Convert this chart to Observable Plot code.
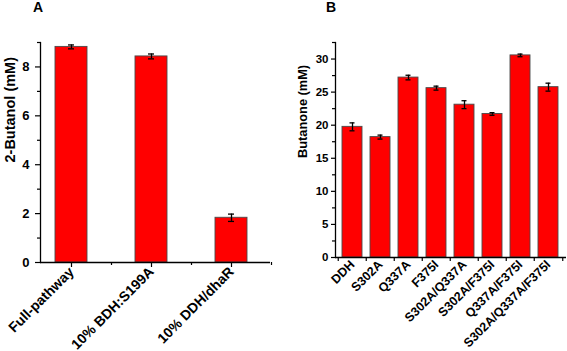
<!DOCTYPE html>
<html>
<head>
<meta charset="utf-8">
<script src="https://cdn.jsdelivr.net/npm/d3@7"></script>
<script src="https://cdn.jsdelivr.net/npm/@observablehq/plot@0.6"></script>
<style>
  html, body { margin: 0; padding: 0; background: #fff; }
  #wrap { position: relative; width: 567px; height: 351px; overflow: hidden; font-family: "Liberation Sans", Arial, sans-serif; }
  .panel { position: absolute; top: 0; }
  .letter { position: absolute; font-weight: bold; font-size: 14px; top: -1px; }
</style>
</head>
<body>
<div id="wrap">
  <div id="pa" class="panel" style="left:0px"></div>
  <div id="pb" class="panel" style="left:290px"></div>
  <div class="letter" style="left:33px">A</div>
  <div class="letter" style="left:326px">B</div>
</div>
<script>
const catsA = ["Full-pathway", "10% BDH:S199A", "10% DDH/dhaR"];
const valsA = [8.82, 8.43, 1.83];
const errsA = [0.08, 0.10, 0.15];
const yTitleA = "2-Butanol (mM)";
const yTicksA = [0, 2, 4, 6, 8];
const yMinorA = [1, 3, 5, 7, 9];

const catsB = ["DDH", "S302A", "Q337A", "F375I", "S302A/Q337A", "S302A/F375I", "Q337A/F375I", "S302A/Q337A/F375I"];
const valsB = [19.75, 18.2, 27.2, 25.6, 23.1, 21.7, 30.55, 25.75];
const errsB = [0.6, 0.3, 0.35, 0.3, 0.6, 0.2, 0.2, 0.6];
const yTitleB = "Butanone (mM)";
const yTicksB = [0, 5, 10, 15, 20, 25, 30];
const yMinorB = [2.5, 7.5, 12.5, 17.5, 22.5, 27.5, 32.5];

const dataA = catsA.map((c, i) => ({name: c, value: valsA[i], err: errsA[i]}));
const dataB = catsB.map((c, i) => ({name: c, value: valsB[i], err: errsB[i]}));

const font = "'Liberation Sans', Arial, sans-serif";

const chartA = Plot.plot({
  width: 290, height: 351,
  marginLeft: 40, marginRight: 20, marginTop: 42, marginBottom: 89,
  style: {fontFamily: font, fontWeight: "bold", background: "white", color: "black", overflow: "visible"},
  x: {type: "band", domain: catsA, paddingInner: 0.6, paddingOuter: 0.2375, align: 0.4, label: null},
  y: {domain: [0, 9], label: null},
  marks: [
    Plot.barY(dataA, {x: "name", y: "value", fill: "#ff0000", stroke: "#4a4a4a", strokeWidth: 0.9}),
    Plot.ruleX(dataA, {x: "name", y1: d => d.value - d.err, y2: d => d.value + d.err, stroke: "black", strokeWidth: 1.3}),
    Plot.tickY(dataA, {x: "name", y: d => d.value + d.err, stroke: "black", strokeWidth: 1.3, insetLeft: 13, insetRight: 13}),
    Plot.tickY(dataA, {x: "name", y: d => d.value - d.err, stroke: "black", strokeWidth: 1.3, insetLeft: 13, insetRight: 13}),
    Plot.frame({anchor: "left", stroke: "black", strokeWidth: 1.3}),
    Plot.ruleY([0], {stroke: "black", strokeWidth: 1.3}),
    Plot.axisY({ticks: yTicksA, tickSize: 5, tickPadding: 6, fontSize: 13, strokeWidth: 1.2, label: null}),
    Plot.axisY({ticks: yMinorA, tickSize: 3, text: null, strokeWidth: 1.2, label: null}),
    Plot.axisX({tickSize: 5, tickRotate: -45, fontSize: 14, tickPadding: 2, strokeWidth: 1.2, label: null}),
    Plot.axisX({tickSize: 3, text: null, dx: 40, strokeWidth: 1.2, label: null}),
    Plot.text([yTitleA], {text: d => d, frameAnchor: "left", rotate: -90, dx: -30, dy: 10, fontSize: 14.5, fontWeight: "bold"})
  ]
});
document.getElementById("pa").appendChild(chartA);

const chartB = Plot.plot({
  width: 277, height: 351,
  marginLeft: 45, marginRight: 1, marginTop: 42, marginBottom: 94,
  style: {fontFamily: font, fontWeight: "bold", background: "white", color: "black", overflow: "visible"},
  x: {type: "band", domain: catsB, paddingInner: 0.3, paddingOuter: 0.22, align: 0.45, label: null},
  y: {domain: [0, 32.5], label: null},
  marks: [
    Plot.barY(dataB, {x: "name", y: "value", fill: "#ff0000", stroke: "#4a4a4a", strokeWidth: 0.9}),
    Plot.ruleX(dataB, {x: "name", y1: d => d.value - d.err, y2: d => d.value + d.err, stroke: "black", strokeWidth: 1.3}),
    Plot.tickY(dataB, {x: "name", y: d => d.value + d.err, stroke: "black", strokeWidth: 1.3, insetLeft: 7.5, insetRight: 7.5}),
    Plot.tickY(dataB, {x: "name", y: d => d.value - d.err, stroke: "black", strokeWidth: 1.3, insetLeft: 7.5, insetRight: 7.5}),
    Plot.frame({anchor: "left", stroke: "black", strokeWidth: 1.3}),
    Plot.ruleY([0], {stroke: "black", strokeWidth: 1.3}),
    Plot.axisY({ticks: yTicksB, tickSize: 4, tickPadding: 3, fontSize: 11.5, strokeWidth: 1.2, label: null}),
    Plot.axisY({ticks: yMinorB, tickSize: 3, text: null, strokeWidth: 1.2, label: null}),
    Plot.axisX({tickSize: 0, tickRotate: -45, fontSize: 12.5, tickPadding: 5, strokeWidth: 1.2, label: null}),
    Plot.axisX({tickSize: 4, text: null, dx: -14.25, strokeWidth: 1.2, label: null}),
    Plot.axisX({ticks: [catsB[catsB.length - 1]], tickSize: 4, text: null, dx: 14.25, strokeWidth: 1.2, label: null}),
    Plot.text([yTitleB], {text: d => d, frameAnchor: "left", rotate: -90, dx: -33, dy: 8, fontSize: 12.8, fontWeight: "bold"})
  ]
});
document.getElementById("pb").appendChild(chartB);
</script>
</body>
</html>
